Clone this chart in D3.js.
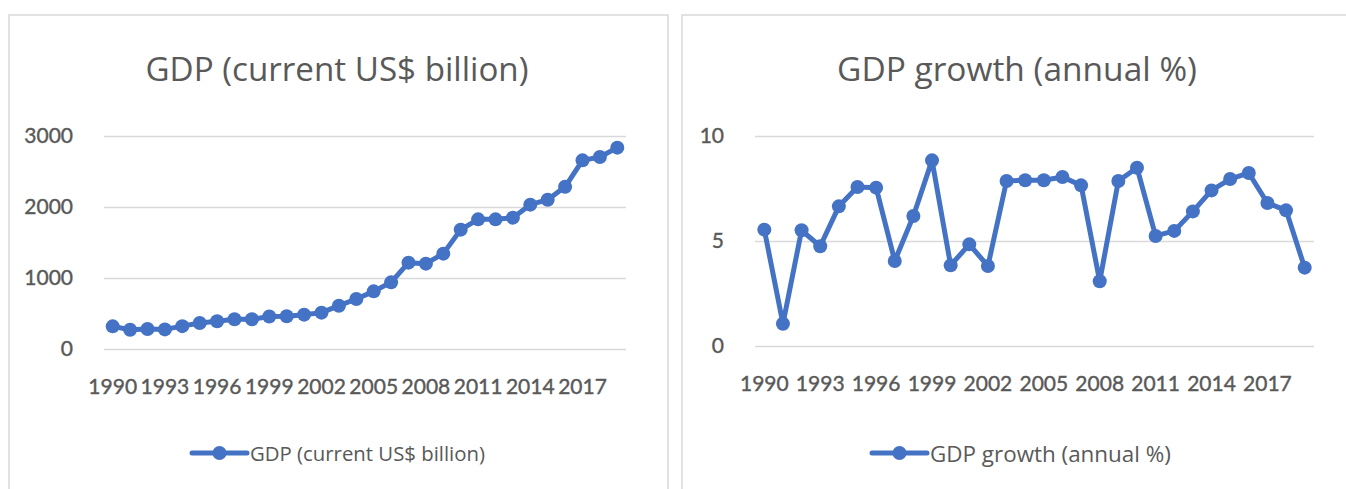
<!DOCTYPE html>
<html>
<head>
<meta charset="utf-8">
<script src="https://cdn.jsdelivr.net/npm/d3@7"></script>
<style>
  html, body { margin: 0; padding: 0; background: #fff; }
  svg { display: block; }
  text { font-family: "Open Sans", "Noto Sans", sans-serif; fill: #595959; }
</style>
</head>
<body>
<svg id="chart" width="1346" height="489"></svg>
<script>
const years = d3.range(1990, 2020);
const yearLabels = ["1990","1993","1996","1999","2002","2005","2008","2011","2014","2017"];
const gdpValues = [319, 272, 282, 276, 322, 366, 390, 418, 418, 458, 462, 484, 512, 610, 704, 812, 939, 1216, 1202, 1343, 1681, 1826, 1826, 1850, 2033, 2103, 2285, 2657, 2704, 2836];
const growthValues = [5.54, 1.06, 5.51, 4.75, 6.65, 7.57, 7.54, 4.05, 6.19, 8.84, 3.84, 4.84, 3.81, 7.86, 7.89, 7.89, 8.05, 7.65, 3.08, 7.86, 8.49, 5.24, 5.48, 6.41, 7.41, 7.95, 8.24, 6.81, 6.46, 3.73];
const gdpTicks = [0, 1000, 2000, 3000];
const growthTicks = [0, 5, 10];
const gdpTitle = "GDP (current US$ billion)";
const growthTitle = "GDP growth (annual %)";

const svg = d3.select("#chart");
const blue = "#4472C4";
const tickFont = 'Lato, "Open Sans", sans-serif';

function fitText(sel, target) {
  let fs = parseFloat(sel.attr("font-size"));
  const w = sel.node().getComputedTextLength();
  sel.attr("font-size", (fs * target / w).toFixed(2));
}

function drawPanel(cfg) {
  const g = svg.append("g");
  g.append("rect")
    .attr("x", cfg.px).attr("y", cfg.py)
    .attr("width", cfg.pw).attr("height", 520)
    .attr("fill", "#fff").attr("stroke", "#d9d9d9").attr("stroke-width", 1.5);

  const x = d3.scaleBand().domain(years).range([cfg.x0, cfg.x1]);
  const y = d3.scaleLinear().domain(cfg.domain).range([cfg.y0, cfg.y1]);

  // gridlines + y labels
  const yAxis = d3.axisLeft(y).tickValues(cfg.ticks).tickSize(-(cfg.x1 - cfg.x0)).tickPadding(31).tickFormat(d3.format("d"));
  const ya = g.append("g").attr("transform", `translate(${cfg.x0},0)`).call(yAxis);
  ya.select(".domain").remove();
  ya.selectAll(".tick line").attr("stroke", "#d9d9d9").attr("stroke-width", 1.5);
  ya.selectAll(".tick text").attr("font-size", 21).attr("fill", "#595959")
    .attr("stroke", "#595959").attr("stroke-width", 0.4)
    .style("font-family", tickFont);

  // x labels
  const xAxis = d3.axisBottom(x).tickValues(yearLabels.map(Number)).tickSize(0).tickPadding(0).tickFormat(d3.format("d"));
  const xa = g.append("g").attr("transform", `translate(0,${cfg.y0 + 38})`).call(xAxis);
  xa.select(".domain").remove();
  xa.selectAll(".tick text").attr("font-size", 21).attr("fill", "#595959")
    .attr("stroke", "#595959").attr("stroke-width", 0.4)
    .attr("dy", "0.32em").attr("y", 0)
    .style("font-family", tickFont);

  // line
  const line = d3.line().x((d, i) => x(years[i]) + x.bandwidth() / 2).y(d => y(d));
  g.append("path").datum(cfg.values).attr("d", line)
    .attr("fill", "none").attr("stroke", blue).attr("stroke-width", 5)
    .attr("stroke-linejoin", "round").attr("stroke-linecap", "round");
  g.selectAll("circle.pt").data(cfg.values).join("circle").attr("class", "pt")
    .attr("cx", (d, i) => x(years[i]) + x.bandwidth() / 2)
    .attr("cy", d => y(d)).attr("r", 7).attr("fill", blue);

  // title
  const t = g.append("text").attr("x", cfg.tcx).attr("y", 68)
    .attr("text-anchor", "middle").attr("dominant-baseline", "central")
    .attr("font-size", 28).text(cfg.title);
  fitText(t, cfg.tw);

  // legend
  const lg = g.append("g");
  lg.append("line").attr("x1", cfg.lx).attr("x2", cfg.lx + 55).attr("y1", 453).attr("y2", 453)
    .attr("stroke", blue).attr("stroke-width", 5).attr("stroke-linecap", "round");
  lg.append("circle").attr("cx", cfg.lx + 27.5).attr("cy", 453).attr("r", 7).attr("fill", blue);
  const lt = lg.append("text").attr("x", cfg.lx + 58).attr("y", 453)
    .attr("dominant-baseline", "central").attr("font-size", 17).text(cfg.title);
  fitText(lt, cfg.lw);
}

drawPanel({
  px: 9, py: 15, pw: 659,
  x0: 104, x1: 626, y0: 349, y1: 136,
  domain: [0, 3000], ticks: gdpTicks, values: gdpValues,
  title: gdpTitle, tcx: 337, tw: 383, lx: 192, lw: 235
});
drawPanel({
  px: 682, py: 15, pw: 680,
  x0: 755, x1: 1314, y0: 346, y1: 136,
  domain: [0, 10], ticks: growthTicks, values: growthValues,
  title: growthTitle, tcx: 1017, tw: 360, lx: 872, lw: 241
});
</script>
</body>
</html>
